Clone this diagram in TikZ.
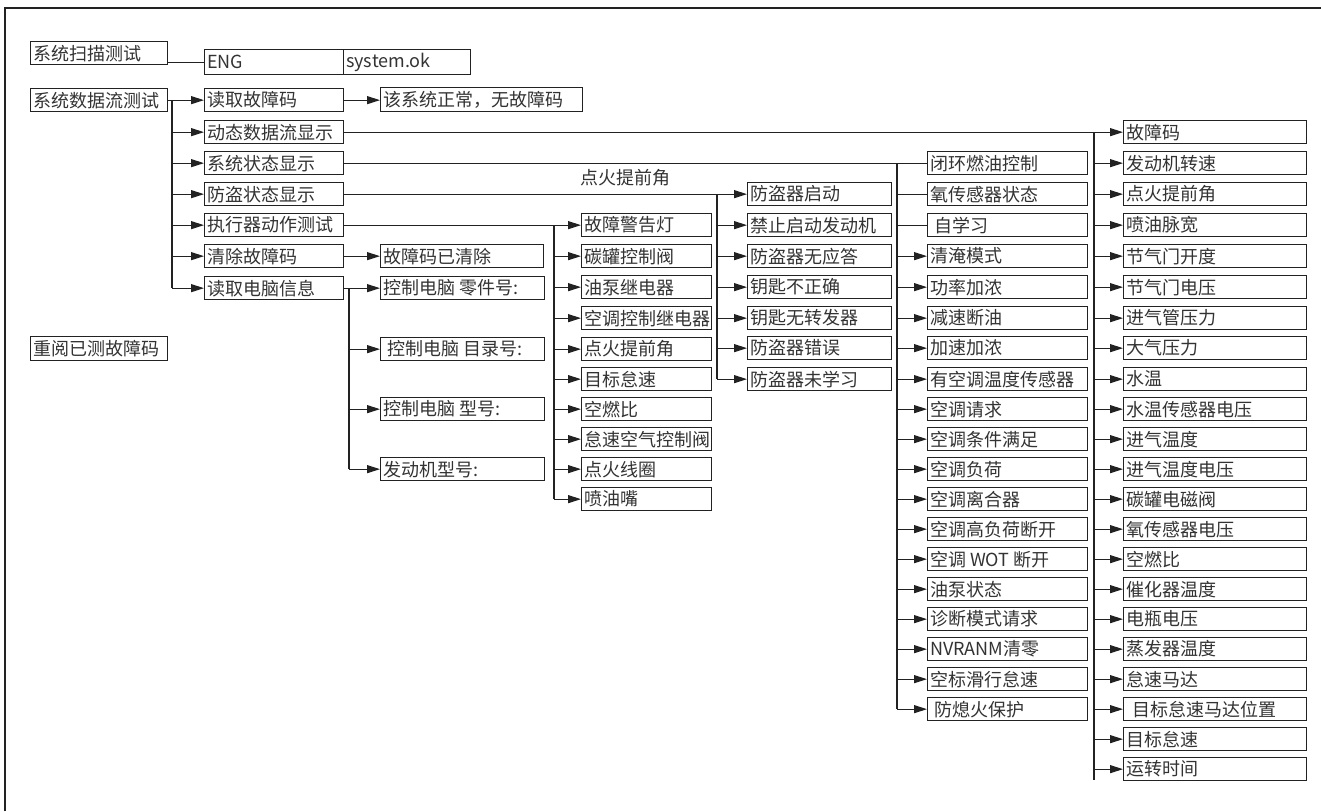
\documentclass[tikz,border=0pt]{standalone}
\usepackage{fontspec}
\newfontfamily\cjk{Noto Sans CJK SC}
\usetikzlibrary{arrows.meta}
\definecolor{ink}{HTML}{222222}
\definecolor{txt}{HTML}{333333}
\tikzset{
  bxs/.style={draw=ink, line width=1.3pt, inner sep=0pt, font=\cjk\fontsize{18}{18}\selectfont, text=txt, anchor=north west},
  ln/.style={draw=ink, line width=1.1pt},
  ar/.style={ln, -{Triangle[length=13pt,width=8pt]}},
  frame/.style={draw=ink, line width=1.8pt},
  lbl/.style={inner sep=0pt, font=\cjk\fontsize{18}{18}\selectfont, text=txt},
}
\newcommand\bx[6]{%
  \pgfmathsetmacro\bxw{#4-(#2)}%
  \pgfmathsetmacro\bxh{#5-(#3)}%
  \pgfmathsetmacro\bxt{#4-(#2)-5}%
  \node[bxs, minimum width=\bxw pt, minimum height=\bxh pt] (#1) at (#2,#3) {\makebox[\bxt pt][l]{#6}};}
\begin{document}
\begin{tikzpicture}[x=1pt,y=-1pt]
\useasboundingbox (0,0) rectangle (1321,811);
\fill[white] (0,0) rectangle (1321,811);
\draw[frame] (5,811) -- (5,8) -- (1321,8);
% root
\bx{scan}{30}{41}{167}{64}{系统扫描测试}
\bx{eng}{204}{49}{343}{74}{ENG}
\bx{sok}{343}{49}{470}{74}{system.ok}
\bx{sdl}{30}{88}{167}{111}{系统数据流测试}
\bx{rev}{30}{336}{167}{360}{重阅已测故障码}
% level 1
\foreach \n/\y/\t in {1/88/读取故障码,2/120/动态数据流显示,3/151/系统状态显示,4/182/防盗状态显示,5/213/执行器动作测试,6/244/清除故障码,7/276/读取电脑信息}
  {\bx{r\n}{204}{\y}{343}{\y+23}{\t}}
% level 2
\bx{nocode}{380}{87}{582}{111}{该系统正常，无故障码}
\bx{cleared}{380}{244}{543}{267}{故障码已清除}
\bx{p1}{380}{276}{544}{299}{控制电脑 零件号:}
\bx{p2}{380}{337}{544}{360}{\hspace{4pt}控制电脑 目录号:}
\bx{p3}{380}{397}{544}{420}{控制电脑 型号:}
\bx{p4}{380}{457}{544}{480}{发动机型号:}
% actuators
\foreach \n/\y/\t in {1/213/故障警告灯,2/244/碳罐控制阀,3/275/油泵继电器,4/306/空调控制继电器,5/337/点火提前角,6/367/目标怠速,7/397/空燃比,8/427/怠速空气控制阀,9/457/点火线圈,10/487/喷油嘴}
  {\bx{a\n}{581}{\y}{711}{\y+23}{\t}}
% anti-theft
\foreach \n/\y/\t in {1/182/防盗器启动,2/213/禁止启动发动机,3/244/防盗器无应答,4/275/钥匙不正确,5/306/钥匙无转发器,6/336/防盗器错误,7/367/防盗器未学习}
  {\bx{t\n}{747}{\y}{891}{\y+23}{\t}}
% system status
\foreach \n/\y/\t in {1/151/闭环燃油控制,2/182/氧传感器状态,3/213/\hspace{4pt}自学习,4/244/清淹模式,5/275/功率加浓,6/306/减速断油,7/336/加速加浓,8/367/有空调温度传感器,9/397/空调请求,10/427/空调条件满足,11/457/空调负荷,12/487/空调离合器,13/517/空调高负荷断开,14/547/空调 WOT 断开,15/577/油泵状态,16/607/诊断模式请求,17/637/NVRANM清零,18/667/空标滑行怠速,19/697/\hspace{4pt}防熄火保护}
  {\bx{s\n}{927}{\y}{1087}{\y+23}{\t}}
% data stream
\foreach \n/\y/\t in {1/120/故障码,2/151/发动机转速,3/182/点火提前角,4/213/喷油脉宽,5/244/节气门开度,6/275/节气门电压,7/306/进气管压力,8/336/大气压力,9/367/水温,10/397/水温传感器电压,11/427/进气温度,12/457/进气温度电压,13/487/碳罐电磁阀,14/517/氧传感器电压,15/547/空燃比,16/577/催化器温度,17/607/电瓶电压,18/637/蒸发器温度,19/667/怠速马达,20/697/\hspace{6pt}目标怠速马达位置,21/727/目标怠速,22/757/运转时间}
  {\bx{d\n}{1123}{\y}{1306}{\y+23}{\t}}
\node[lbl, anchor=west] (ign) at (580,178) {点火提前角};
% bus coordinates
\coordinate (lbx) at (172,0);
\coordinate (pbx) at (349,0);
\coordinate (abx) at (554,0);
\coordinate (tbx) at (717,0);
\coordinate (sbx) at (897,0);
\coordinate (dend) at (1094,780);
% connectors
\draw[ln] (scan.east |- eng.west) -- (eng.west);
\draw[ln] (sdl.east) -| (lbx |- r7.west);
\foreach \n in {1,...,7} {\draw[ar] (lbx |- r\n.west) -- (r\n.west);}
\draw[ar] (r1.east) -- (r1.east -| nocode.west);
\draw[ar] (r6.east) -- (r6.east -| cleared.west);
% pc info
\draw[ln] (r7.east) -- (pbx |- r7.east) -- (pbx |- p4.west);
\foreach \n in {1,...,4} {\draw[ar] (pbx |- p\n.west) -- (p\n.west);}
% actuators
\draw[ln] (r5.east) -- (abx |- r5.east) -- (abx |- a10.west);
\foreach \n in {1,...,10} {\draw[ar] (abx |- a\n.west) -- (a\n.west);}
% anti-theft
\draw[ln] (r4.east) -- (tbx |- r4.east) -- (tbx |- t7.west);
\foreach \n in {1,...,7} {\draw[ar] (tbx |- t\n.west) -- (t\n.west);}
% system status
\draw[ln] (r3.east) -- (s1.west);
\draw[ln] (sbx |- s1.west) -- (sbx |- s19.west);
\foreach \n in {2,3} {\draw[ln] (sbx |- s\n.west) -- (s\n.west);}
\foreach \n in {4,...,19} {\draw[ar] (sbx |- s\n.west) -- (s\n.west);}
% data stream
\draw[ln] (r2.east) -| (dend);
\foreach \n in {1,...,22} {\draw[ar] (dend |- d\n.west) -- (d\n.west);}
\end{tikzpicture}
\end{document}
